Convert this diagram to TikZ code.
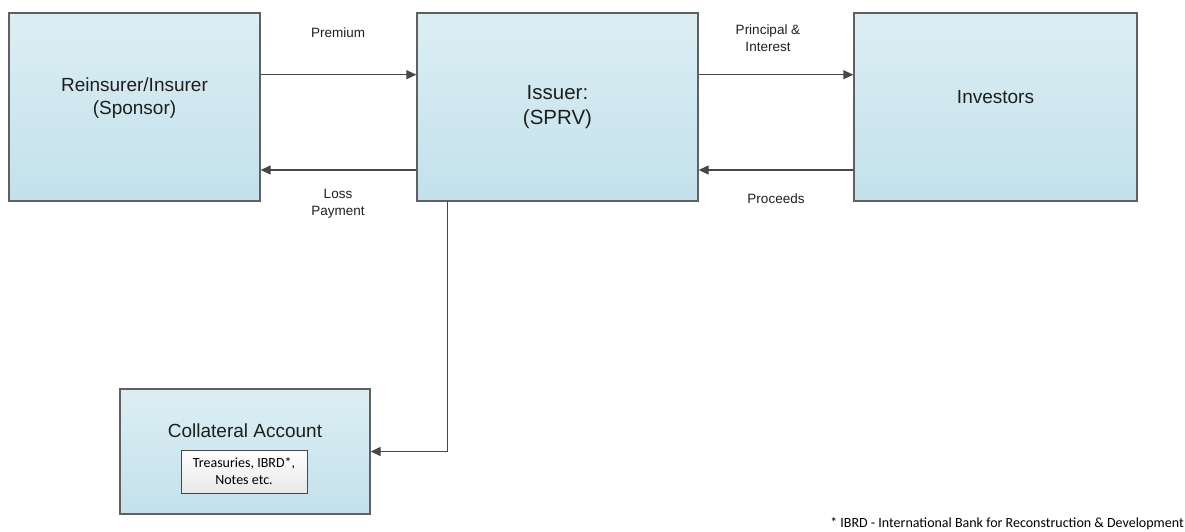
\documentclass[tikz,border=0pt]{standalone}
\usepackage{fontspec}
\setmainfont{Liberation Sans}
\newfontfamily\calibri{Carlito}
\usepackage{xcolor}
\usetikzlibrary{positioning,arrows.meta}

\definecolor{boxtop}{HTML}{DCEEF4}
\definecolor{boxbot}{HTML}{C3E1EB}
\definecolor{boxedge}{HTML}{606060}
\definecolor{flowgray}{HTML}{474747}
\definecolor{inktext}{HTML}{1E1E1E}

\tikzset{
  party/.style={rectangle, draw=boxedge, line width=1.3pt, top color=boxtop, bottom color=boxbot, inner sep=0pt},
  partytext/.style={font=\fontsize{19}{23.5}\selectfont, text=inktext, align=center},
  holding/.style={rectangle, draw=black!72, line width=0.9pt, top color=white, bottom color=black!9, inner sep=0pt, font=\calibri\fontsize{14}{17}\selectfont, align=center},
  flowlbl/.style={font=\fontsize{13.5}{16.5}\selectfont, text=inktext, align=center},
  flow/.style={draw=flowgray, line width=1.3pt, -{Triangle[length=10pt,width=9pt]}},
}

\begin{document}
\begin{tikzpicture}[x=1pt, y=-1pt]
\useasboundingbox (0,0) rectangle (1185,531);

% parties
\node[party, minimum width=251pt, minimum height=188pt,
  label={[partytext, yshift=9pt]center:Reinsurer/Insurer\\(Sponsor)}] (sponsor) at (134.5,107) {};
\node[party, minimum width=281pt, minimum height=188pt,
  label={[partytext, font=\fontsize{20.5}{25}\selectfont]center:Issuer:\\(SPRV)}] (issuer) at (557.5,107) {};
\node[party, minimum width=283pt, minimum height=188pt,
  label={[partytext, yshift=10pt]center:Investors}] (investors) at (995.5,107) {};

% collateral
\node[party, minimum width=250pt, minimum height=125pt] (collat) at (245,451.5) {};
\node[partytext] (collattitle) at (245,431) {Collateral Account};
\node[holding, minimum width=126pt, minimum height=43pt] (assets) at (244,471.5) {Treasuries, IBRD*,\\Notes etc.};

% flows
\draw[flow] ([yshift=32.3pt]sponsor.east) -- ([yshift=32.3pt]issuer.west);
\draw[flow] ([yshift=-63pt]issuer.west) -- ([yshift=-63pt]sponsor.east);
\draw[flow] ([yshift=32.3pt]issuer.east) -- ([yshift=32.3pt]investors.west);
\draw[flow] ([yshift=-63pt]investors.west) -- ([yshift=-63pt]issuer.east);
\draw[flow] ([xshift=31pt]issuer.south west) |- (collat.east);

% flow labels
\node[flowlbl] (premium) at (338,33) {Premium};
\node[flowlbl] (loss) at (338,203.5) {Loss\\Payment};
\node[flowlbl] (pandi) at (768,38) {Principal \&\\Interest};
\node[flowlbl] (proceeds) at (776,199) {Proceeds};

% footnote
\node[anchor=east, inner sep=0pt, font=\calibri\fontsize{14}{16}\selectfont, text=black] (note) at (1184,523.5) {* IBRD - International Bank for Reconstruction \& Development};
\end{tikzpicture}
\end{document}
